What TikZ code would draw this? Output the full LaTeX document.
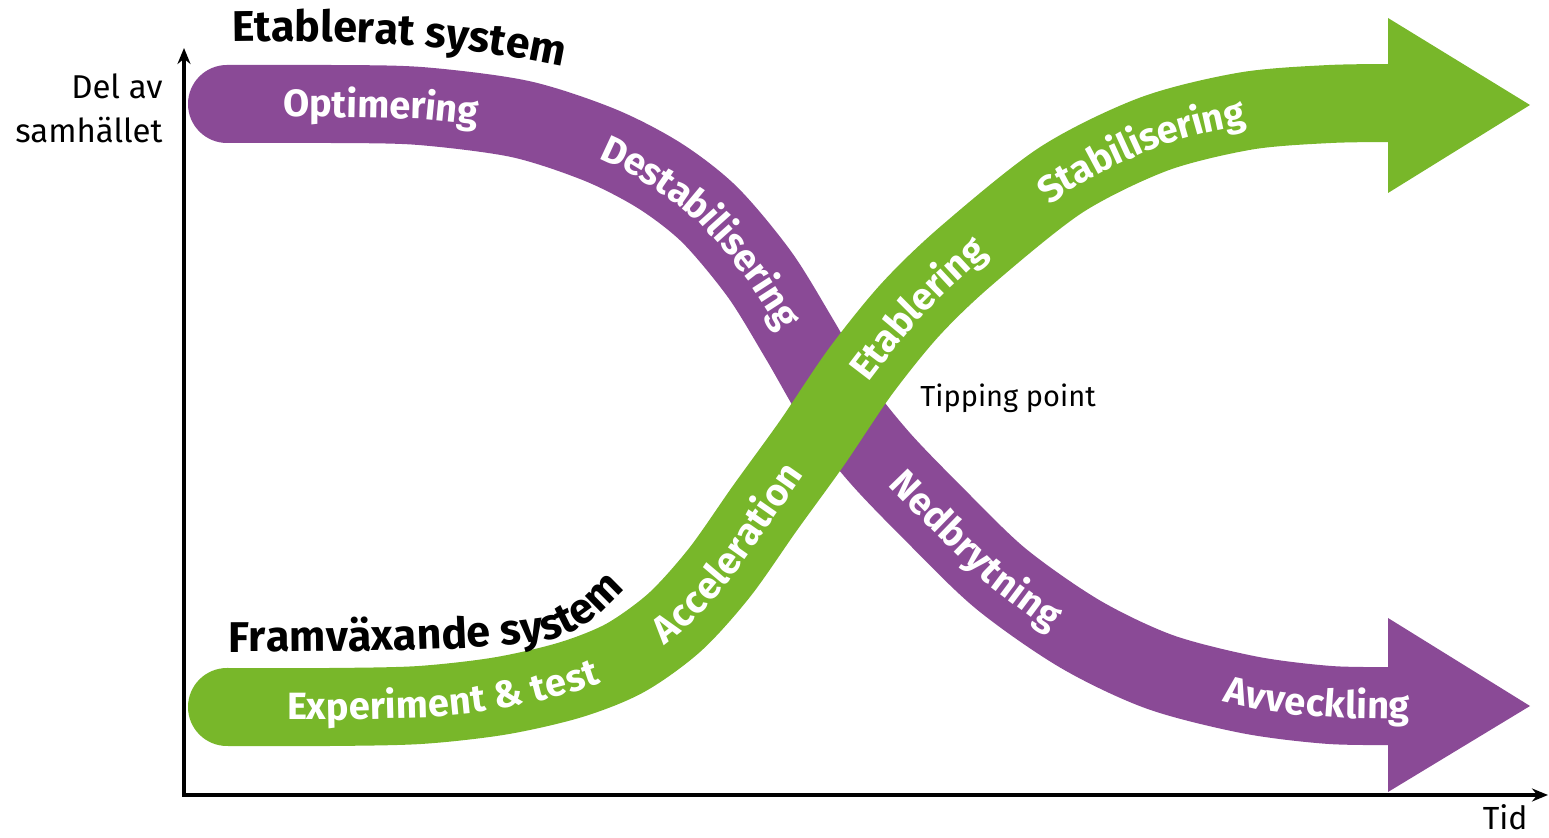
\documentclass[tikz,border=0pt]{standalone}
\usepackage{fontspec}
\setmainfont{Fira Sans}
\usetikzlibrary{arrows.meta}
\usetikzlibrary{decorations.text}

\definecolor{purp}{RGB}{138,74,150}
\definecolor{grn}{RGB}{120,183,42}
\newcommand{\labelfont}{\bfseries\fontsize{19}{19}\selectfont}
\newcommand{\titlefont}{\bfseries\fontsize{21.5}{21.5}\selectfont}

\tikzset{
  band/.style={line width=39pt, line cap=round},
  onband/.style={decorate, decoration={text along path, text align=left, text color=white, raise=-6.5pt, text={|\labelfont|#1}}},
  overband/.style={decorate, decoration={text along path, text align=left, text color=black, text={|\titlefont|#1}}},
}

\begin{document}
\begin{tikzpicture}[x=0.5pt, y=-0.5pt, >={Stealth[length=8pt,width=6.5pt]}]
\useasboundingbox (0,0) rectangle (1549,838);
\coordinate (origin) at (184,795);
\coordinate (ytop) at (184,48);
\coordinate (xend) at (1548,795);
\draw[<->, line width=1.75pt] (ytop) -- (origin) -- (xend);
\draw[band, purp] plot[smooth] coordinates {(227,104) (330,104) (420,106) (520,119) (600,145) (660,176) (710,215) (760,275) (800,340) (838,405) (880,458) (930,510) (1000,578) (1080,634) (1160,672) (1250,695) (1330,705) (1400,706)};
\fill[purp] (1388,618) -- (1530,706) -- (1388,792) -- cycle;
\draw[band, grn] plot[smooth] coordinates {(227,707) (330,707) (420,705) (500,696) (570,680) (625,658) (675,622) (720,572) (765,508) (812,443) (860,372) (910,310) (966,256) (1061,180) (1154,134) (1246,111) (1330,104) (1400,103)};
\fill[grn] (1388,18) -- (1530,105) -- (1388,193) -- cycle;
\path[overband=Etablerat system] (232,42) .. controls (380,40) and (470,44) .. (600,75);
\path[overband={Framv{\"a}xande system}] (228,652) .. controls (420,652) and (500,648) .. (550,640) .. controls (585,632) and (615,605) .. (660,545);
\path[onband=Optimering] (283,104) -- (330,104) -- (380,105) -- (420,106) -- (470,111) -- (520,119) -- (560,131) -- (600,145);
\path[onband=Destabilisering] (604,147) -- (632,160) -- (660,177) -- (686,195) -- (710,215) -- (736,244) -- (760,275) -- (780,306) -- (800,340) -- (838,405);
\path[onband=Nedbrytning] (897,476) -- (930,510) -- (965,544) -- (1000,578) -- (1040,608) -- (1080,634) -- (1120,655) -- (1160,672) -- (1250,695);
\path[onband=Avveckling] (1225,689) -- (1260,697) -- (1300,702) -- (1340,705) -- (1400,706) -- (1500,706);
\path[onband={Experiment {\&} test}] (287,707) -- (330,707) -- (380,706) -- (420,705) -- (460,701) -- (500,696) -- (535,689) -- (570,680) -- (600,670) -- (625,658) -- (650,642);
\path[onband=Acceleration] (657,635) -- (675,621) -- (698,598) -- (720,572) -- (742,541) -- (765,508) -- (788,475) -- (812,443) -- (836,407) -- (860,372);
\path[onband=Etablering] (858,375) -- (884,341) -- (910,310) -- (938,282) -- (966,256) -- (1013,217) -- (1061,180) -- (1154,134);
\path[onband=Stabilisering] (1042,195) -- (1061,180) -- (1108,155) -- (1154,134) -- (1200,121) -- (1246,111) -- (1290,106) -- (1330,104) -- (1400,103);
\node[anchor=base west, inner sep=0, font=\fontsize{14.5}{14.5}\selectfont] (tipping) at (920,407) {Tipping point};
\node[anchor=east, inner sep=0, align=right, font=\fontsize{16.5}{22}\selectfont] (share) at (163,108) {Del av\\samhället};
\node[anchor=base east, inner sep=0, font=\fontsize{16}{16}\selectfont] (time) at (1528,830) {Tid};
\end{tikzpicture}
\end{document}
